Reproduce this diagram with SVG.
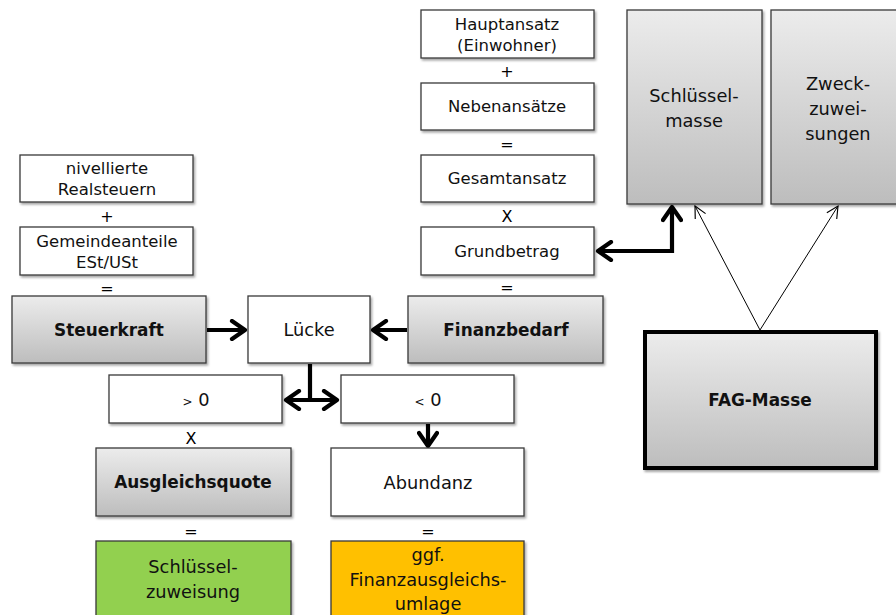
<svg xmlns="http://www.w3.org/2000/svg" width="896" height="615" viewBox="0 0 896 615">
<defs>
<linearGradient id="g" x1="0" y1="0" x2="0" y2="1">
<stop offset="0" stop-color="#ececec"/>
<stop offset="1" stop-color="#bdbdbd"/>
</linearGradient>
<filter id="sh" x="-10%" y="-10%" width="130%" height="130%">
<feDropShadow dx="1.5" dy="2" stdDeviation="1.2" flood-color="#000" flood-opacity="0.35"/>
</filter>
<marker id="ah" viewBox="0 0 20 22" refX="16" refY="11" markerWidth="20" markerHeight="22" markerUnits="userSpaceOnUse" orient="auto-start-reverse">
<path d="M3,2 L16,11 L3,20" fill="none" stroke="#000" stroke-width="4.2" stroke-linecap="round" stroke-linejoin="round"/>
</marker>
<marker id="at" viewBox="0 0 12 12" refX="11" refY="6" markerWidth="14" markerHeight="14" markerUnits="userSpaceOnUse" orient="auto">
<path d="M1,1 L11,6 L1,11" fill="none" stroke="#000" stroke-width="1"/>
</marker>
</defs>
<style>
rect{stroke:#3a3a3a;stroke-width:1.3;filter:url(#sh)}
.w{fill:#fff}
.gr{fill:url(#g)}
.t{font-family:"DejaVu Sans","Noto Sans",sans-serif;font-size:16.5px;fill:#111;text-anchor:middle}
.L{font-size:17.8px}
.b{font-weight:bold;font-size:16.9px}
.op{font-family:"DejaVu Sans",sans-serif;font-size:16px;fill:#000;text-anchor:middle}
.c{fill:none;stroke:#000;stroke-width:4.2}
.th{fill:none;stroke:#000;stroke-width:1}
</style>
<g id="connectors">
<line class="c" x1="207" y1="330" x2="245" y2="330" marker-end="url(#ah)"/>
<line class="c" x1="407" y1="330" x2="373" y2="330" marker-end="url(#ah)"/>
<polyline class="c" points="310,364 310,400"/>
<line class="c" x1="286" y1="400" x2="337" y2="400" marker-start="url(#ah)" marker-end="url(#ah)"/>
<line class="c" x1="428" y1="424" x2="428" y2="446" marker-end="url(#ah)"/>
<polyline class="c" points="598,251 672,251 672,207" marker-start="url(#ah)" marker-end="url(#ah)"/>
<line class="th" x1="760" y1="330" x2="695" y2="206" marker-end="url(#at)"/>
<line class="th" x1="760" y1="330" x2="838" y2="206" marker-end="url(#at)"/>
</g>
<g id="n-realsteuern"><rect class="w" x="20" y="155" width="173" height="47"/><text class="t" x="107" y="174">nivellierte</text><text class="t" x="107" y="195">Realsteuern</text></g>
<text class="op" x="107" y="222">+</text>
<g id="n-gemeindeanteile"><rect class="w" x="20" y="227" width="173" height="48"/><text class="t" x="107" y="247">Gemeindeanteile</text><text class="t" x="107" y="268">ESt/USt</text></g>
<text class="op" x="107" y="294">=</text>
<g id="n-steuerkraft"><rect class="gr" x="12" y="296" width="194" height="67"/><text class="t b" x="109" y="336">Steuerkraft</text></g>
<g id="n-luecke"><rect class="w" x="248" y="296" width="122" height="67"/><text class="t L" x="309" y="336">Lücke</text></g>
<g id="n-finanzbedarf"><rect class="gr" x="408" y="296" width="195" height="67"/><text class="t b" x="506" y="336">Finanzbedarf</text></g>
<g id="n-hauptansatz"><rect class="w" x="421" y="10" width="173" height="48"/><text class="t" x="507" y="30">Hauptansatz</text><text class="t" x="507" y="51">(Einwohner)</text></g>
<text class="op" x="507" y="77">+</text>
<g id="n-nebenansaetze"><rect class="w" x="421" y="83" width="173" height="47"/><text class="t" x="507" y="112">Nebenansätze</text></g>
<text class="op" x="507" y="150">=</text>
<g id="n-gesamtansatz"><rect class="w" x="421" y="155" width="173" height="47"/><text class="t" x="507" y="184">Gesamtansatz</text></g>
<text class="op" x="507" y="222">X</text>
<g id="n-grundbetrag"><rect class="w" x="421" y="227" width="173" height="48"/><text class="t" x="507" y="257">Grundbetrag</text></g>
<text class="op" x="507" y="293">=</text>
<g id="n-schluesselmasse"><rect class="gr" x="627" y="10" width="135" height="194"/><text class="t L" x="694" y="102">Schlüssel-</text><text class="t L" x="694" y="127">masse</text></g>
<g id="n-zweckzuweisungen"><rect class="gr" x="771" y="10" width="135" height="194"/><text class="t L" x="838" y="90">Zweck-</text><text class="t L" x="838" y="115">zuwei-</text><text class="t L" x="838" y="140">sungen</text></g>
<g id="n-fagmasse"><rect class="gr" x="645" y="332" width="231" height="136" style="stroke:#000;stroke-width:4"/><text class="t b" x="760" y="406">FAG-Masse</text></g>
<g id="n-groesser"><rect class="w" x="109" y="375" width="173" height="48"/><text class="t L" x="196" y="406"><tspan font-size="12">&gt;</tspan> 0</text></g>
<g id="n-kleiner"><rect class="w" x="341" y="375" width="173" height="48"/><text class="t L" x="428" y="406"><tspan font-size="12">&lt;</tspan> 0</text></g>
<text class="op" x="191" y="444">X</text>
<g id="n-ausgleichsquote"><rect class="gr" x="96" y="448" width="195" height="68"/><text class="t b" x="193" y="488">Ausgleichsquote</text></g>
<g id="n-abundanz"><rect class="w" x="331" y="448" width="193" height="68"/><text class="t L" x="428" y="489">Abundanz</text></g>
<text class="op" x="191" y="537">=</text>
<text class="op" x="428" y="537">=</text>
<g id="n-schluesselzuweisung"><rect x="96" y="541" width="195" height="80" style="fill:#92d050"/><text class="t L" x="193" y="573">Schlüssel-</text><text class="t L" x="193" y="598">zuweisung</text></g>
<g id="n-umlage"><rect x="331" y="541" width="193" height="80" style="fill:#ffc000"/><text class="t L" x="428" y="561">ggf.</text><text class="t L" x="428" y="586">Finanzausgleichs-</text><text class="t L" x="428" y="610">umlage</text></g>
</svg>
